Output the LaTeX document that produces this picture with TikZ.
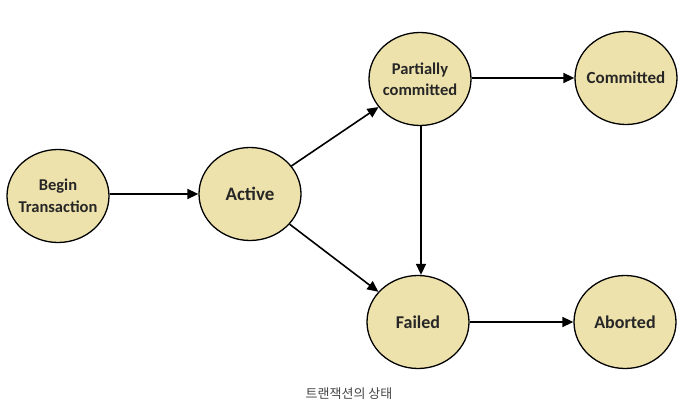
\documentclass[tikz,border=0pt]{standalone}
\usepackage{fontspec}
\setmainfont{Carlito}
\newfontfamily\kofont{Noto Sans CJK KR}
\usetikzlibrary{arrows.meta,shapes.geometric}
\definecolor{statefill}{RGB}{238,226,172}
\definecolor{captiongray}{RGB}{70,70,70}
\begin{document}
\begin{tikzpicture}[x=1pt,y=-1pt,
  state/.style={ellipse,draw=black,line width=1.3pt,fill=statefill,minimum width=102pt,minimum height=93pt,inner sep=-14pt,align=center,font=\bfseries,text=black!85},
  arr/.style={line width=1.6pt,-{Triangle[length=11pt,width=10pt]}}]
\useasboundingbox (0,0) rectangle (699,419);
\fill[white] (0,0) rectangle (699,419);
\node[state,font=\bfseries\fontsize{16.5}{22}\selectfont] (begin) at (58,196) {Begin\\Transaction};
\node[state,font=\bfseries\fontsize{19}{22}\selectfont] (active) at (250,194) {Active};
\node[state,font=\bfseries\fontsize{16.5}{21}\selectfont] (partial) at (420,79) {Partially\\committed};
\node[state,font=\bfseries\fontsize{17}{20}\selectfont] (committed) at (626,78) {Committed};
\node[state,font=\bfseries\fontsize{18}{21}\selectfont] (failed) at (418,322) {Failed};
\node[state,font=\bfseries\fontsize{18}{21}\selectfont] (aborted) at (625,322) {Aborted};
\node[font=\kofont\fontsize{13}{15}\selectfont,text=captiongray] (caption) at (349,394) {트랜잭션의 상태};
\draw[arr] (begin.east |- 0,194) -- (active.west |- 0,194);
\draw[arr] (active) -- (partial);
\draw[arr] (active) -- (failed);
\draw[arr] (partial.south -| 421,0) -- (failed.north -| 421,0);
\draw[arr] (partial.east |- 0,78) -- (committed.west |- 0,78);
\draw[arr] (failed) -- (aborted);
\end{tikzpicture}
\end{document}
